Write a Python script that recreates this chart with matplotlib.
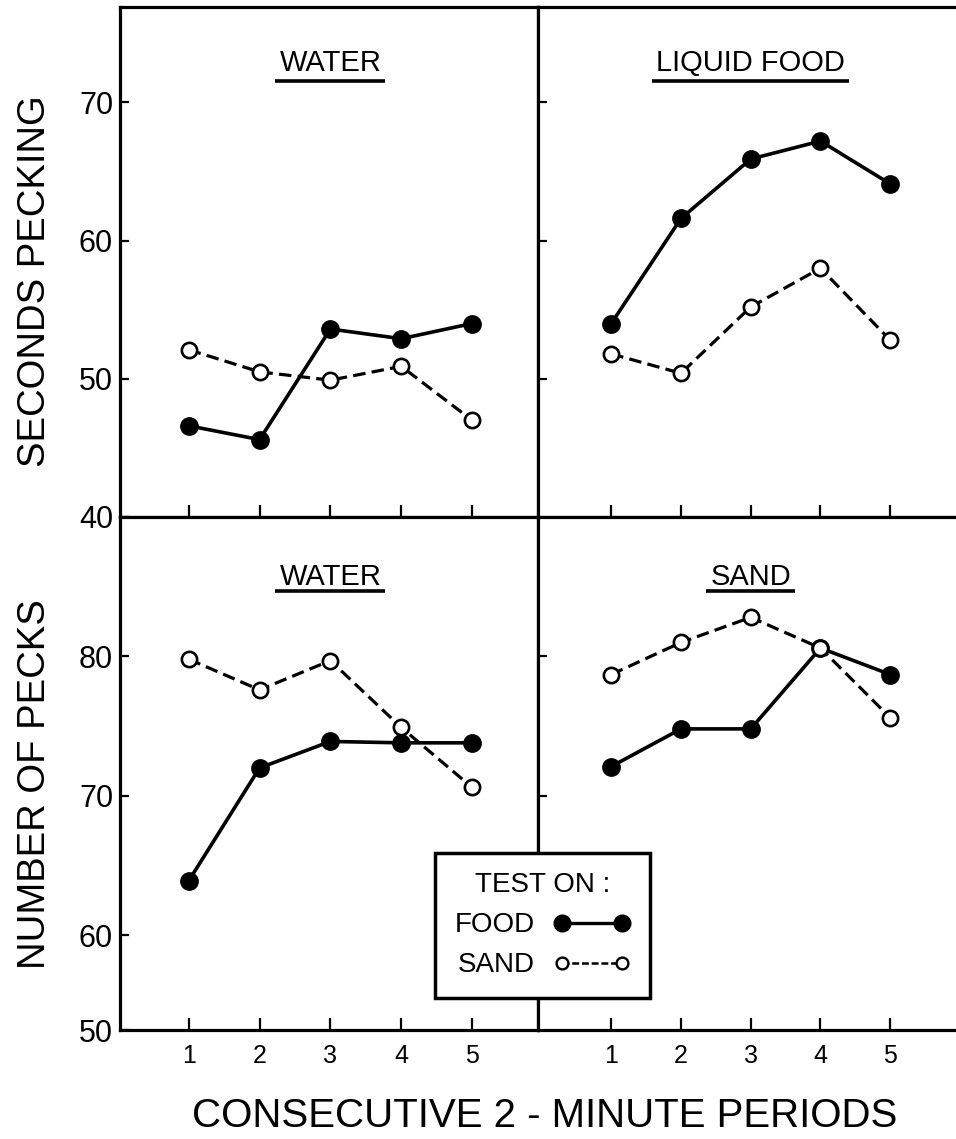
import matplotlib
matplotlib.use("Agg")
import matplotlib.pyplot as plt
from matplotlib.lines import Line2D
import matplotlib.transforms as mtransforms

plt.rcParams['font.family'] = ['Liberation Sans', 'DejaVu Sans']
plt.rcParams['lines.scale_dashes'] = False

# ---------------- data ----------------
periods = [1, 2, 3, 4, 5]
period_labels = ['1', '2', '3', '4', '5']

top_water_food = [46.6, 45.6, 53.6, 52.9, 54.0]
top_water_sand = [52.1, 50.5, 49.9, 50.9, 47.0]
top_liquid_food = [54.0, 61.6, 65.9, 67.2, 64.1]
top_liquid_sand = [51.8, 50.4, 55.2, 58.0, 52.8]

bot_water_food = [63.9, 72.0, 73.9, 73.8, 73.8]
bot_water_sand = [79.8, 77.6, 79.7, 74.9, 70.6]
bot_sand_food = [72.1, 74.8, 74.8, 80.6, 78.7]
bot_sand_sand = [78.7, 81.0, 82.8, 80.6, 75.6]

panel_titles = ['WATER', 'LIQUID FOOD', 'WATER', 'SAND']
top_yticks = [40, 50, 60, 70]
bot_yticks = [60, 70, 80]
bot_ylabels = ['60', '70', '80']
top_ylabel = 'SECONDS PECKING'
bot_ylabel = 'NUMBER OF PECKS'
x_label = 'CONSECUTIVE 2 - MINUTE PERIODS'
legend_title = 'TEST ON :'
legend_labels = ['FOOD', 'SAND']

# ---------------- layout ----------------
W, H = 956, 1139
fig = plt.figure(figsize=(W / 100, H / 100), dpi=100, facecolor='white')


def ax_at(x0, x1, y0, y1):
    return fig.add_axes([x0 / W, 1 - y1 / H, (x1 - x0) / W, (y1 - y0) / H])


axTL = ax_at(120, 538, 7, 517)
axTR = ax_at(538, 960, 7, 517)
axBL = ax_at(120, 538, 517, 1030)
axBR = ax_at(538, 960, 517, 1030)

TOP_YLIM = (40, 76.9)
BOT_YLIM = (53.2, 90.0)

food_kw = dict(color='black', lw=2.6, marker='o', ms=12.5, mfc='black',
               mec='black', zorder=3, clip_on=False)
sand_kw = dict(color='black', lw=2.3, ls=(0, (9, 4.5)), marker='o', ms=11,
               mfc='white', mec='black', mew=1.9, zorder=4, clip_on=False)

panels = [
    (axTL, top_water_food, top_water_sand, TOP_YLIM, (0.03, 5.93)),
    (axTR, top_liquid_food, top_liquid_sand, TOP_YLIM, (-0.05, 6.0)),
    (axBL, bot_water_food, bot_water_sand, BOT_YLIM, (0.03, 5.93)),
    (axBR, bot_sand_food, bot_sand_sand, BOT_YLIM, (-0.05, 6.0)),
]

for ax, food, sand, ylim, xlim in panels:
    ax.plot(periods, food, **food_kw)
    ax.plot(periods, sand, **sand_kw)
    ax.set_xlim(*xlim)
    ax.set_ylim(*ylim)
    for s in ax.spines.values():
        s.set_linewidth(2.3)
        s.set_color('black')
    ax.set_xticks(periods)
    ax.tick_params(axis='x', direction='in', length=9, width=1.6,
                   labelsize=18, pad=10, top=False)
    ax.tick_params(axis='y', direction='in', length=6.5, width=1.6,
                   labelsize=22, pad=5, right=False)
    ax.set_facecolor('white')

# y ticks
axTL.set_yticks(top_yticks)
axTL.set_yticklabels([str(v) for v in top_yticks])
axTR.set_yticks([50, 60, 70])
axTR.set_yticklabels([])
axBL.set_yticks([BOT_YLIM[0]] + bot_yticks)
axBL.set_yticklabels(['50'] + bot_ylabels)
axBR.set_yticks(bot_yticks)
axBR.set_yticklabels([])

# x tick labels only on bottom row
for ax in (axTL, axTR):
    ax.set_xticklabels([])
for ax in (axBL, axBR):
    ax.set_xticklabels(period_labels)

# panel titles
title_axes = [axTL, axTR, axBL, axBR]
title_base = [0.875, 0.875, 0.867, 0.867]
underline_y = [0.855, 0.855, 0.856, 0.856]
title_texts = []
for ax, t, yb in zip(title_axes, panel_titles, title_base):
    tr = mtransforms.blended_transform_factory(ax.transData, ax.transAxes)
    txt = ax.text(3, yb, t, transform=tr, ha='center', va='baseline',
                  fontsize=21, color='black')
    title_texts.append(txt)

# axis labels
fig.text(35 / W, 1 - 281 / H, top_ylabel, rotation=90, ha='center',
         va='center', fontsize=27.5)
fig.text(35 / W, 1 - 784 / H, bot_ylabel, rotation=90, ha='center',
         va='center', fontsize=27.5)
fig.text(545 / W, 1 - 1127 / H, x_label, ha='center', va='baseline',
         fontsize=29)

# legend
h_food = Line2D([], [], color='black', lw=2.4, marker='o', ms=12,
                mfc='black', mec='black')
h_sand = Line2D([], [], color='black', lw=1.8, ls=(0, (5, 2)), marker='o',
                ms=8.5, mfc='white', mec='black', mew=1.7)
leg = fig.legend([h_food, h_sand], legend_labels, title=legend_title,
                 loc='upper left', bbox_to_anchor=(435 / W, 1 - 853 / H),
                 bbox_transform=fig.transFigure, markerfirst=False,
                 numpoints=2, handlelength=2.75, handletextpad=0.7,
                 fontsize=20, title_fontsize=20, frameon=True, fancybox=False,
                 edgecolor='black', facecolor='white', framealpha=1,
                 borderpad=0.7, labelspacing=0.5, borderaxespad=0)
leg.get_frame().set_linewidth(2.5)
leg.set_zorder(10)

# underlines below panel titles
fig.canvas.draw()
inv = fig.transFigure.inverted()
for ax, txt, uy in zip(title_axes, title_texts, underline_y):
    bb = txt.get_window_extent()
    y_disp = ax.transAxes.transform((0, uy))[1]
    (fx0, fy), (fx1, _) = inv.transform([(bb.x0 - 4, y_disp), (bb.x1 + 4, y_disp)])
    fig.add_artist(Line2D([fx0, fx1], [fy, fy], transform=fig.transFigure,
                          color='black', lw=2.6, solid_capstyle='butt'))

fig.savefig('out.png', dpi=100, facecolor='white')
